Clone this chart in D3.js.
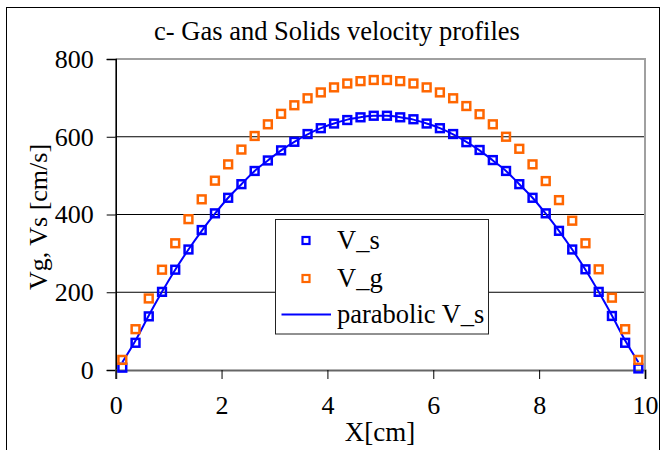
<!DOCTYPE html>
<html>
<head>
<meta charset="utf-8">
<script src="https://cdn.jsdelivr.net/npm/d3@7"></script>
<style>
  html, body { margin: 0; padding: 0; background: #fff; }
  svg { display: block; font-family: "Liberation Serif", "Times New Roman", serif; }
</style>
</head>
<body>
<svg id="chart" width="661" height="450"></svg>
<script>
// Radial positions across the duct [cm]
const xPos = [0.125, 0.375, 0.625, 0.875, 1.125, 1.375, 1.625, 1.875, 2.125, 2.375,
              2.625, 2.875, 3.125, 3.375, 3.625, 3.875, 4.125, 4.375, 4.625, 4.875,
              5.125, 5.375, 5.625, 5.875, 6.125, 6.375, 6.625, 6.875, 7.125, 7.375,
              7.625, 7.875, 8.125, 8.375, 8.625, 8.875, 9.125, 9.375, 9.625, 9.875];
// Solids velocity V_s [cm/s]
const vSolids = [6, 70, 138, 201, 258, 310, 360, 403, 443, 478,
                 512, 539, 565, 587, 607, 622, 634, 643, 650, 654,
                 654, 650, 645, 634, 622, 607, 586, 566, 540, 512,
                 478, 443, 403, 358, 310, 259, 201, 139, 70, 4];
// Gas velocity V_g [cm/s]
const vGas = [26, 105, 184, 258, 326, 388, 439, 487, 529, 567,
              602, 632, 659, 681, 699, 714, 727, 737, 743, 746,
              746, 743, 737, 727, 714, 699, 679, 658, 632, 600,
              569, 529, 486, 437, 384, 326, 259, 186, 105, 26];
// Parabolic fit of V_s [cm/s]
const vParabolic = [20, 76, 140, 201, 258, 310, 358, 402, 443, 478,
                    512, 539, 565, 587, 606, 622, 634, 644, 650, 654,
                    654, 650, 644, 634, 622, 606, 587, 565, 539, 512,
                    478, 443, 402, 358, 310, 258, 201, 140, 76, 20];
const xTicks = [0, 2, 4, 6, 8, 10];
const yTicks = [0, 200, 400, 600, 800];
const seriesNames = ["V_s", "V_g", "parabolic V_s"];

const BLUE = "#0000ff", ORANGE = "#ff6600";
const svg = d3.select("#chart");

// Outer frame
svg.append("rect").attr("x", 6.5).attr("y", 7.5).attr("width", 653).attr("height", 460)
  .attr("fill", "#fff").attr("stroke", "#000").attr("stroke-width", 1);

const x = d3.scaleLinear().domain([0, 10]).range([115.7, 645]);
const y = d3.scaleLinear().domain([0, 800]).range([370, 59]);

// Plot area
svg.append("rect").attr("x", x(0)).attr("y", y(800))
  .attr("width", x(10) - x(0)).attr("height", y(0) - y(800)).attr("fill", "#fff");

// Horizontal gridlines
svg.append("g").selectAll("line").data(yTicks.filter(d => d > 0 && d < 800)).join("line")
  .attr("x1", x(0)).attr("x2", x(10)).attr("y1", d => y(d)).attr("y2", d => y(d))
  .attr("stroke", "#000").attr("stroke-width", 1);
// Top and right borders
svg.append("line").attr("x1", x(0)).attr("x2", x(10) + 1).attr("y1", y(800)).attr("y2", y(800))
  .attr("stroke", "#a0a0a0").attr("stroke-width", 2);
svg.append("line").attr("x1", x(10)).attr("x2", x(10)).attr("y1", y(800)).attr("y2", y(0))
  .attr("stroke", "#a0a0a0").attr("stroke-width", 2);

// Y axis
const yAxis = svg.append("g").attr("transform", `translate(${x(0)},0)`)
  .call(d3.axisLeft(y).tickValues(yTicks).tickSize(9).tickPadding(13).tickFormat(d3.format("d")));
yAxis.select(".domain").attr("stroke", "#000").attr("stroke-width", 1.6);
yAxis.selectAll(".tick line").attr("stroke", "#000").attr("stroke-width", 1);
yAxis.selectAll(".tick text").attr("fill", "#000").attr("font-size", 26)
  .attr("font-family", "Liberation Serif");

// X axis
const xAxis = svg.append("g").attr("transform", `translate(0,${y(0)})`)
  .call(d3.axisBottom(x).tickValues(xTicks).tickSize(9).tickPadding(17).tickFormat(d3.format("d")));
xAxis.select(".domain").attr("stroke", "#666").attr("stroke-width", 2.2);
xAxis.selectAll(".tick line").attr("stroke", "#000").attr("stroke-width", 1);
xAxis.selectAll(".tick text").attr("fill", "#000").attr("font-size", 26)
  .attr("font-family", "Liberation Serif");

// Parabolic fit line
const line = d3.line().x((d, i) => x(xPos[i])).y(d => y(d)).curve(d3.curveMonotoneX);
svg.append("path").datum(vParabolic).attr("d", line)
  .attr("fill", "none").attr("stroke", BLUE).attr("stroke-width", 2);

// Hollow square markers
function squares(values, color) {
  const s = 7.8;
  svg.append("g").selectAll("rect").data(values).join("rect")
    .attr("x", (d, i) => x(xPos[i]) - s / 2).attr("y", d => y(d) - s / 2)
    .attr("width", s).attr("height", s)
    .attr("fill", "none").attr("stroke", color).attr("stroke-width", 2.5);
}
squares(vSolids, BLUE);
squares(vGas, ORANGE);

// Titles
svg.append("text").attr("x", 337).attr("y", 40).attr("text-anchor", "middle")
  .attr("font-size", 26.5).text("c- Gas and Solids velocity profiles");
svg.append("text").attr("transform", "translate(47,217) rotate(-90)").attr("text-anchor", "middle")
  .attr("font-size", 26).text("Vg,  Vs [cm/s]");
svg.append("text").attr("x", 380).attr("y", 441).attr("text-anchor", "middle")
  .attr("font-size", 27).text("X[cm]");

// Legend
const lg = svg.append("g");
lg.append("rect").attr("x", 275.5).attr("y", 219.5).attr("width", 213).attr("height", 114.5)
  .attr("fill", "#fff").attr("stroke", "#222").attr("stroke-width", 1);
const legendRows = [
  { name: seriesNames[0], color: BLUE, type: "square", cy: 240.5 },
  { name: seriesNames[1], color: ORANGE, type: "square", cy: 278.5 },
  { name: seriesNames[2], color: BLUE, type: "line", cy: 314.5 }
];
legendRows.forEach(r => {
  if (r.type === "square") {
    lg.append("rect").attr("x", 306 - 3.5).attr("y", r.cy - 3.5).attr("width", 7).attr("height", 7)
      .attr("fill", "none").attr("stroke", r.color).attr("stroke-width", 2.2);
  } else {
    lg.append("line").attr("x1", 281.5).attr("x2", 331).attr("y1", r.cy).attr("y2", r.cy)
      .attr("stroke", r.color).attr("stroke-width", 2);
  }
  lg.append("text").attr("x", 337).attr("y", r.cy + 8.5).attr("font-size", 26.5).text(r.name);
});
</script>
</body>
</html>
